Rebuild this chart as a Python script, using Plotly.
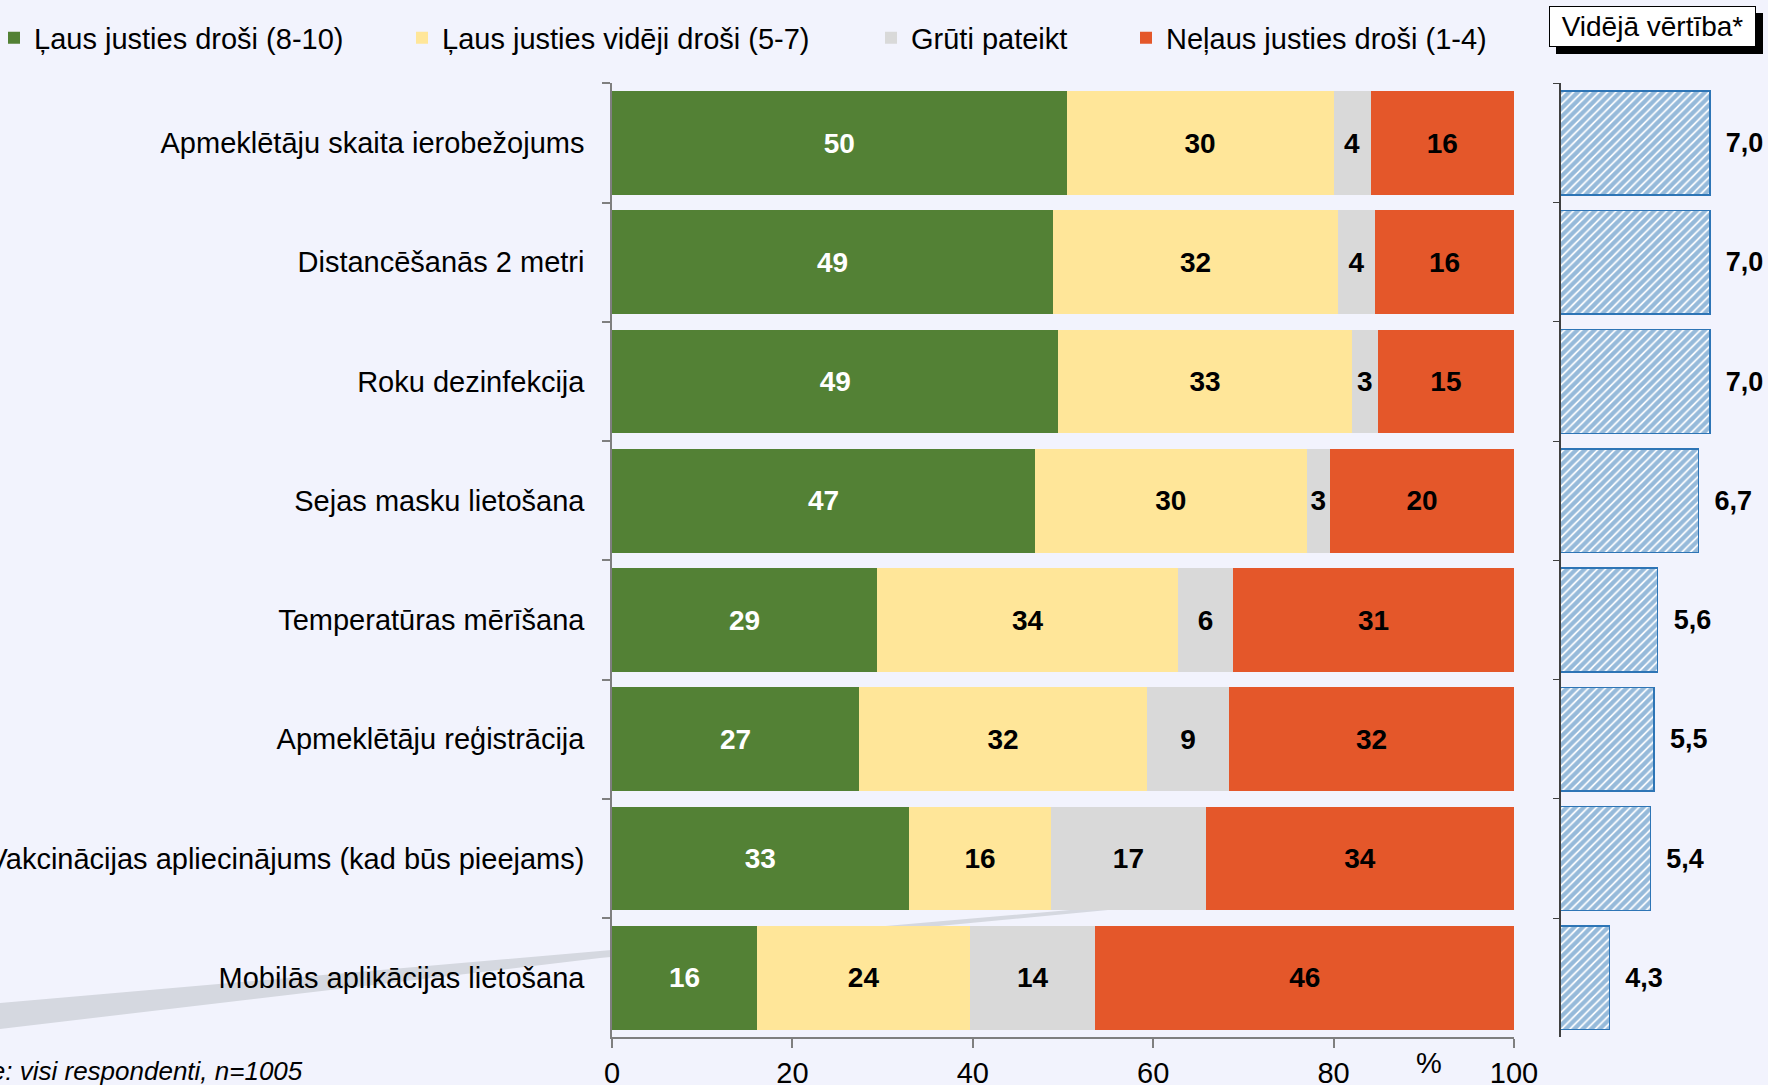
import plotly.graph_objects as go

W, H = 1768, 1085

categories = [
    "Apmeklētāju skaita ierobežojums",
    "Distancēšanās 2 metri",
    "Roku dezinfekcija",
    "Sejas masku lietošana",
    "Temperatūras mērīšana",
    "Apmeklētāju reģistrācija",
    "Vakcinācijas apliecinājums (kad būs pieejams)",
    "Mobilās aplikācijas lietošana",
]

series_names = [
    "Ļaus justies droši (8-10)",
    "Ļaus justies vidēji droši (5-7)",
    "Grūti pateikt",
    "Neļaus justies droši (1-4)",
]

# segment lengths (%)
safe = [50.4, 48.9, 49.5, 46.9, 29.4, 27.4, 32.9, 16.1]
medium = [29.6, 31.6, 32.5, 30.1, 33.4, 31.9, 15.8, 23.6]
hard = [4.1, 4.1, 2.9, 2.6, 6.0, 9.1, 17.1, 13.9]
unsafe = [15.9, 15.4, 15.1, 20.4, 31.25, 31.6, 34.25, 46.4]

# printed labels
safe_lbl = [50, 49, 49, 47, 29, 27, 33, 16]
medium_lbl = [30, 32, 33, 30, 34, 32, 16, 24]
hard_lbl = [4, 4, 3, 3, 6, 9, 17, 14]
unsafe_lbl = [16, 16, 15, 20, 31, 32, 34, 46]

avg = [7.0, 7.0, 7.0, 6.7, 5.6, 5.5, 5.4, 4.3]
avg_lbl = ["7,0", "7,0", "7,0", "6,7", "5,6", "5,5", "5,4", "4,3"]

x_ticks = [0, 20, 40, 60, 80, 100]

colors = ["#538135", "#FFE699", "#D9D9D9", "#E4572A"]
text_colors = ["white", "black", "black", "black"]
FONT = "Arial, Liberation Sans, Arimo, sans-serif"
BG = "#F2F3FD"


def px(x):
    return x / W


def py(y):
    return 1 - y / H


fig = go.Figure()

data = [safe, medium, hard, unsafe]
labels = [safe_lbl, medium_lbl, hard_lbl, unsafe_lbl]
legend_ids = ["legend", "legend2", "legend3", "legend4"]
for i in range(4):
    fig.add_trace(go.Bar(
        y=categories, x=data[i], orientation="h", name=series_names[i],
        marker=dict(color=colors[i], line=dict(width=0)),
        text=[str(v) for v in labels[i]], textposition="inside",
        insidetextanchor="middle", textangle=0,
        textfont=dict(family=FONT, size=28, color=text_colors[i], weight="bold"),
        xaxis="x", yaxis="y", legend=legend_ids[i], hoverinfo="skip",
    ))

fig.add_trace(go.Bar(
    y=categories, x=avg, orientation="h", showlegend=False,
    marker=dict(color="white", line=dict(color="#2E75B6", width=1.5),
                pattern=dict(shape="/", fgcolor="#2E75B6", bgcolor="white",
                             size=6, solidity=0.7)),
    text=["\u00a0\u2009" + t for t in avg_lbl], textposition="outside",
    cliponaxis=False,
    textfont=dict(family=FONT, size=27, color="black", weight="bold"),
    xaxis="x2", yaxis="y2", hoverinfo="skip",
))

ydom = [py(1037.4), py(83.4)]
axis_line = "#7F7F7F"

fig.update_layout(
    width=W, height=H,
    margin=dict(l=0, r=0, t=0, b=0, autoexpand=False),
    paper_bgcolor=BG, plot_bgcolor="rgba(0,0,0,0)",
    barmode="stack", bargap=0.13,
    font=dict(family=FONT, size=29, color="black"),
    xaxis=dict(domain=[px(612), px(1514)], range=[0, 100],
               tickvals=x_ticks, ticktext=[str(v) for v in x_ticks],
               showgrid=False, zeroline=False, showline=True,
               linecolor=axis_line, linewidth=1.5,
               ticks="outside", ticklen=9, tickcolor=axis_line, tickwidth=1.5,
               tickfont=dict(size=29), anchor="y", automargin=False),
    yaxis=dict(domain=ydom, categoryorder="array", categoryarray=categories,
               autorange="reversed", showgrid=False, zeroline=False,
               showline=True, linecolor=axis_line, linewidth=1.5,
               ticks="outside", ticklen=8, tickcolor=axis_line, tickwidth=1.5,
               tickson="boundaries", ticklabelstandoff=20,
               tickfont=dict(size=29), automargin=False, anchor="x"),
    xaxis2=dict(domain=[px(1561), 1.0], range=[3, 3 + 207 / 37.2],
                showgrid=False, zeroline=False, showline=False,
                showticklabels=False, ticks="", anchor="y2", automargin=False),
    yaxis2=dict(domain=ydom, categoryorder="array", categoryarray=categories,
                autorange="reversed", showgrid=False, zeroline=False,
                showline=True, linecolor="#404040", linewidth=1.5,
                ticks="outside", ticklen=6, tickcolor="#404040",
                tickson="boundaries", showticklabels=False, anchor="x2",
                automargin=False),
    showlegend=True,
)

leg_common = dict(orientation="h", xanchor="left", yanchor="middle", y=py(38),
                  bgcolor="rgba(0,0,0,0)", font=dict(size=29, family=FONT),
                  itemwidth=30, borderwidth=0)
leg_text_x = [34, 442, 911, 1166]
fig.update_layout(
    legend=dict(x=px(leg_text_x[0] - 40), **leg_common),
    legend2=dict(x=px(leg_text_x[1] - 40), **leg_common),
    legend3=dict(x=px(leg_text_x[2] - 40), **leg_common),
    legend4=dict(x=px(leg_text_x[3] - 40), **leg_common),
)

shapes = [
    # decorative swoosh
    dict(type="path", xref="paper", yref="paper", layer="below",
         path=(f"M 0,{py(1003)} L {px(600)},{py(951)} L {px(1150)},{py(903)} "
               f"L {px(1150)},{py(906)} L {px(600)},{py(958)} L 0,{py(1029)} Z"),
         fillcolor="#D5D8E0", line=dict(width=0)),
    # shadow of the box
    dict(type="rect", xref="paper", yref="paper", layer="below",
         x0=px(1556), x1=px(1763), y0=py(54), y1=py(13),
         fillcolor="black", line=dict(width=0)),
]
fig.update_layout(shapes=shapes)

fig.add_annotation(xref="paper", yref="paper", x=px(1652.5), y=py(26.5),
                   text="Vidējā vērtība*", showarrow=False,
                   xanchor="center", yanchor="middle",
                   font=dict(size=28, family=FONT, color="black"),
                   bgcolor="white", bordercolor="black", borderwidth=1,
                   width=201, height=35, borderpad=2)
fig.add_annotation(xref="paper", yref="paper", x=px(1429), y=py(1063),
                   text="%", showarrow=False, xanchor="center", yanchor="middle",
                   font=dict(size=29, family=FONT))
fig.add_annotation(xref="paper", yref="paper", x=px(305), y=py(1071),
                   text="<i>Bāze: visi respondenti, n=1005</i>", showarrow=False,
                   xanchor="right", yanchor="middle",
                   font=dict(size=26, family=FONT))

post = f"""
var de=document.documentElement, b=document.body;
de.style.margin='0'; de.style.padding='0'; de.style.overflow='hidden';
b.style.margin='0'; b.style.padding='0'; b.style.overflow='hidden';
b.style.width='{W}px'; b.style.height='{H}px'; b.style.background='{BG}';
"""

fig.write_html("out.html", config={"displayModeBar": False}, post_script=post)
